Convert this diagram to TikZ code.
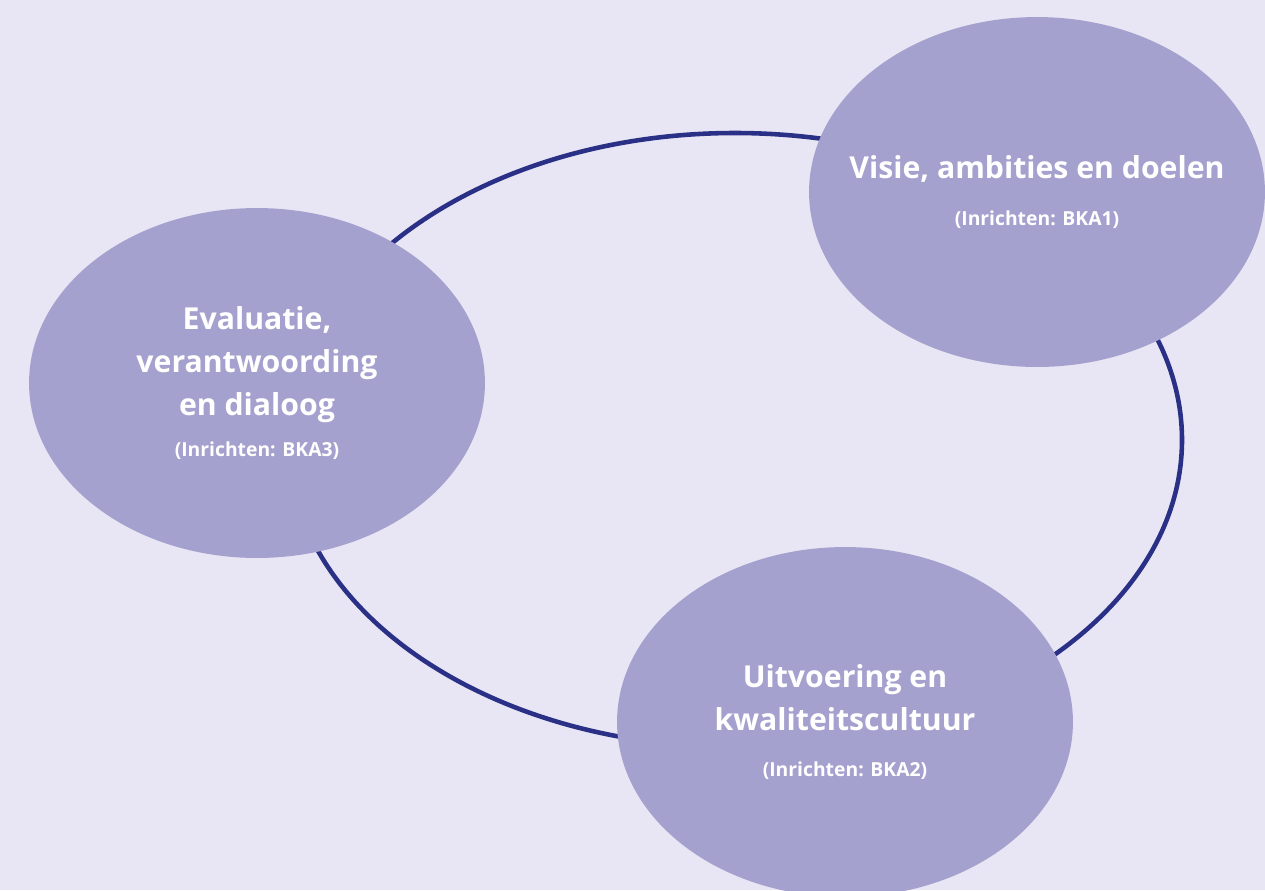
\documentclass[tikz,border=0pt]{standalone}
\usepackage{fontspec}
\setmainfont{Open Sans}
\usepackage{tikz}
\usetikzlibrary{shapes.geometric,positioning}
\usepackage{xcolor}

\definecolor{achtergrond}{HTML}{E8E6F4}
\definecolor{bol}{HTML}{A5A1CE}
\definecolor{ring}{HTML}{2B3087}

\newcommand{\inrichten}[1]{{\fontsize{11}{13}\selectfont (Inrichten: #1)}}

\begin{document}
\begin{tikzpicture}[
        x=0.02cm, y=-0.02cm,
        fase/.style={ellipse, fill=bol, inner sep=0pt,
            minimum width=9.12cm, minimum height=7cm},
        tekst/.style={text=white, align=center, inner sep=0pt,
            font=\fontsize{17.2}{24.5}\selectfont\bfseries}
    ]
    % achtergrond en kader
    \fill[achtergrond] (0,0) rectangle (1265,890);
    \useasboundingbox (0,0) rectangle (1265,890);

    % de cyclus
    \draw[ring, line width=2.6pt] (735,440) ellipse [x radius=447, y radius=307];

    \node (visie) [fase, label={[tekst]center:Visie, ambities en doelen\\[2pt]
        \inrichten{BKA1}}] at (1037,192) {};
    \node (evaluatie) [fase, label={[tekst]center:Evaluatie,\\verantwoording\\en dialoog\\[-1pt]
        \inrichten{BKA3}}] at (257,383) {};
    \node (uitvoering) [fase, label={[tekst]center:Uitvoering en\\kwaliteitscultuur\\[2pt]
        \inrichten{BKA2}}] at (845,722) {};
\end{tikzpicture}
\end{document}
